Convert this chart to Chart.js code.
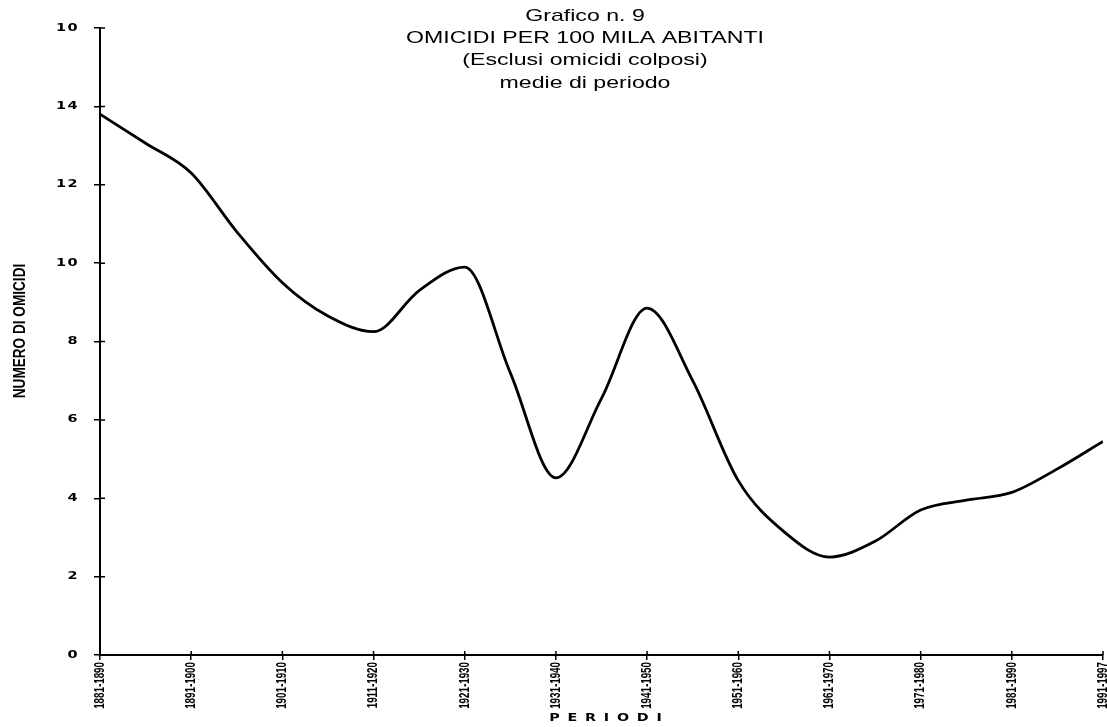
<!DOCTYPE html>
<html>
<head>
<meta charset="utf-8">
<script src="https://cdn.jsdelivr.net/npm/chart.js@4/dist/chart.umd.min.js"></script>
<style>
  body { margin: 0; background: #fff; }
  #wrap { width: 1107px; height: 727px; position: relative; }
</style>
</head>
<body>
<div id="wrap"><canvas id="chart"></canvas></div>
<script>
// periods on the x axis
const periods = ['1881-1890', '1891-1900', '1901-1910', '1911-1920', '1921-1930', '1931-1940',
                 '1941-1950', '1951-1960', '1961-1970', '1971-1980', '1981-1990', '1991-1997'];
// y tick labels as printed (top one reads "10" in the scan)
const yTickLabels = ['0', '2', '4', '6', '8', '10', '12', '14', '10'];
// curve, x in period units (0 = 1881-1890)
const curveX = [0, 0.5, 1, 1.5, 2, 2.5, 3, 3.5, 4, 4.5, 5, 5.5, 6, 6.5, 7, 7.5, 8, 8.5, 9, 9.5, 10, 10.5, 11];
const curveY = [13.8, 13.06, 12.3, 10.8, 9.5, 8.65, 8.25, 9.3, 9.9, 7.2, 4.52, 6.55, 8.85, 7.0,
                4.45, 3.15, 2.5, 2.9, 3.7, 3.95, 4.15, 4.75, 5.45];
const titleLines = ['Grafico n. 9', 'OMICIDI PER 100 MILA ABITANTI', '(Esclusi omicidi colposi)', 'medie di periodo'];
const yTitle = 'NUMERO DI OMICIDI';
const xTitle = 'PERIODI';

const points = curveX.map((x, i) => ({ x: x, y: curveY[i] }));

// title sits inside the plot, text is stretched wide like the scan
const titlePlugin = {
  id: 'titleLines',
  afterDraw(chart) {
    const ctx = chart.ctx;
    ctx.save();
    ctx.fillStyle = '#000';
    ctx.font = '17px "Liberation Sans", Arial, sans-serif';
    ctx.textAlign = 'center';
    ctx.textBaseline = 'middle';
    titleLines.forEach((t, i) => {
      ctx.save();
      ctx.translate(585, 16 + i * 22.4);
      ctx.scale(1.36, 1);
      ctx.fillText(t, 0, 0);
      ctx.restore();
    });
    ctx.restore();
  }
};

// tick labels and axis titles drawn at the scale positions, squeezed/stretched like the scan
const axisExtras = {
  id: 'axisExtras',
  afterDraw(chart) {
    const ctx = chart.ctx;
    const area = chart.chartArea;
    const xs = chart.scales.x, ys = chart.scales.y;
    ctx.save();
    ctx.strokeStyle = '#000';
    ctx.lineWidth = 1.5;
    ctx.beginPath();
    ys.ticks.forEach(t => {
      const py = ys.getPixelForValue(t.value);
      ctx.moveTo(area.left, py);
      ctx.lineTo(area.left + 5, py);
    });
    xs.ticks.forEach(t => {
      const px = xs.getPixelForValue(t.value);
      ctx.moveTo(px, area.bottom);
      ctx.lineTo(px, area.bottom - 4);
    });
    ctx.stroke();

    ctx.fillStyle = '#000';
    ctx.textBaseline = 'middle';

    // y tick labels
    ctx.font = 'bold 10px "DejaVu Sans", sans-serif';
    ctx.textAlign = 'right';
    ys.ticks.forEach((t, i) => {
      ctx.save();
      ctx.translate(area.left - 21, ys.getPixelForValue(t.value));
      ctx.scale(1.45, 1);
      ctx.letterSpacing = '1px';
      ctx.fillText(yTickLabels[i], 0, 0);
      ctx.restore();
    });

    // x tick labels, reading upwards
    ctx.font = 'bold 14px "Liberation Sans", Arial, sans-serif';
    ctx.textAlign = 'right';
    xs.ticks.forEach(t => {
      ctx.save();
      ctx.translate(xs.getPixelForValue(t.value), area.bottom + 7);
      ctx.rotate(-Math.PI / 2);
      ctx.scale(0.7, 1);
      ctx.fillText(periods[t.value], 0, 0);
      ctx.restore();
    });

    // y title
    ctx.save();
    ctx.font = 'bold 17px "Liberation Sans", Arial, sans-serif';
    ctx.textAlign = 'center';
    ctx.translate(20, 331);
    ctx.rotate(-Math.PI / 2);
    ctx.scale(0.8, 1);
    ctx.fillText(yTitle, 0, 0);
    ctx.restore();

    // x title
    ctx.save();
    ctx.font = 'bold 11px "DejaVu Sans", sans-serif';
    ctx.textAlign = 'center';
    ctx.translate((area.left + area.right) / 2 + 4, 718);
    ctx.scale(1.3, 1);
    ctx.letterSpacing = '6px';
    ctx.fillText(xTitle, 3, 0);
    ctx.restore();
    ctx.restore();
  }
};

new Chart(document.getElementById('chart'), {
  type: 'line',
  data: {
    datasets: [{
      data: points,
      borderColor: '#000',
      borderWidth: 2.8,
      pointRadius: 0,
      cubicInterpolationMode: 'monotone',
      fill: false
    }]
  },
  options: {
    responsive: true,
    maintainAspectRatio: false,
    animation: false,
    layout: { padding: { top: 28, right: 4, left: 0, bottom: 0 } },
    plugins: {
      legend: { display: false },
      tooltip: { enabled: false }
    },
    scales: {
      x: {
        type: 'linear',
        min: 0,
        max: 11,
        afterFit(scale) { scale.height = 72; scale.paddingLeft = 0; scale.paddingRight = 0; },
        border: { color: '#000', width: 2 },
        grid: { drawOnChartArea: false, drawTicks: true, tickLength: 5, color: '#000', lineWidth: 1.5 },
        ticks: { stepSize: 1, autoSkip: false, display: false }
      },
      y: {
        min: 0,
        max: 16,
        afterFit(scale) { scale.width = 100; scale.paddingTop = 0; scale.paddingBottom = 0; },
        border: { color: '#000', width: 2 },
        grid: { drawOnChartArea: false, drawTicks: true, tickLength: 6, color: '#000', lineWidth: 1.5 },
        ticks: { stepSize: 2, display: false }
      }
    }
  },
  plugins: [titlePlugin, axisExtras]
});
</script>
</body>
</html>
